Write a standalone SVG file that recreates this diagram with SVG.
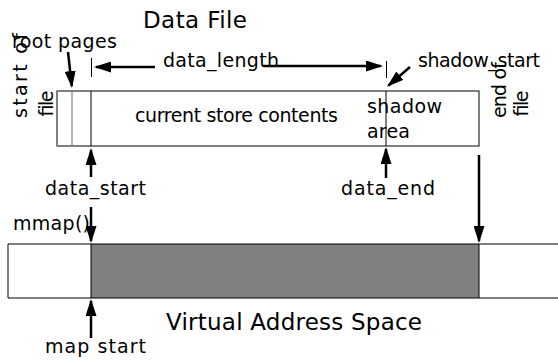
<svg xmlns="http://www.w3.org/2000/svg" width="558" height="360" viewBox="0 0 558 360">
<style>
text{font-family:"DejaVu Sans","Liberation Sans",sans-serif;fill:#000}
.t{font-size:19px}
.big{font-size:23px}
.box{fill:#fff;stroke:#000;stroke-width:1}
.thin{stroke:#000;stroke-width:1;fill:none}
.gl{stroke:#808080;stroke-width:1.2;fill:none}
.arr{stroke:#000;stroke-width:2.5;fill:none;marker-end:url(#ah)}
</style>
<defs>
<marker id="ah" markerUnits="userSpaceOnUse" markerWidth="17" markerHeight="11" refX="15" refY="5.5" orient="auto">
<path d="M0,0 L17,5.5 L0,11 z" fill="#000"/>
</marker>
</defs>
<rect width="558" height="360" fill="#fff"/>

<g id="title-data-file"><text class="big" x="143" y="28" textLength="104">Data File</text></g>

<g id="data-file">
<rect class="box" x="57" y="91" width="422" height="55"/>
<line class="gl" x1="57" y1="91" x2="57" y2="146"/>
<line class="gl" x1="72" y1="91" x2="72" y2="146"/>
<line class="thin" x1="91" y1="91" x2="91" y2="146"/>
<line class="thin" x1="386" y1="91" x2="386" y2="146"/>
<text class="t" x="135" y="122" textLength="203">current store contents</text>
<text class="t" x="367" y="113" textLength="75">shadow</text>
<text class="t" x="367" y="138" textLength="43">area</text>
</g>

<g id="virtual-address-space">
<rect x="8" y="244" width="83" height="54" fill="#fff"/>
<rect x="91" y="244" width="388" height="54" fill="#808080"/>
<rect x="479" y="244" width="79" height="54" fill="#fff"/>
<line class="thin" x1="8" y1="244" x2="558" y2="244"/>
<line class="thin" x1="8" y1="298" x2="558" y2="298"/>
<line class="thin" x1="8" y1="244" x2="8" y2="298"/>
<line class="thin" x1="91" y1="244" x2="91" y2="298"/>
<line class="thin" x1="479" y1="244" x2="479" y2="298"/>
<text class="big" x="166" y="330" textLength="256">Virtual Address Space</text>
</g>

<g id="labels">
<text class="t" x="12" y="48" textLength="105">root pages</text>
<text class="t" x="163" y="67" textLength="116">data_length</text>
<text class="t" x="418" y="67" textLength="122">shadow_start</text>
<text class="t" transform="translate(27,118) rotate(-90)" textLength="85">start of</text>
<text class="t" transform="translate(53,118) rotate(-90)" textLength="26">file</text>
<text class="t" transform="translate(506,118) rotate(-90)" textLength="56">end of</text>
<text class="t" transform="translate(528,118) rotate(-90)" textLength="26">file</text>
<text class="t" x="45" y="195" textLength="101">data_start</text>
<text class="t" x="341" y="195" textLength="94">data_end</text>
<text class="t" x="13" y="230" textLength="77">mmap()</text>
<text class="t" x="45" y="353" textLength="101">map start</text>
</g>

<g id="connectors">
<line class="thin" x1="91.5" y1="58" x2="91.5" y2="77"/>
<line class="thin" x1="386.5" y1="61" x2="386.5" y2="78"/>
<line class="arr" x1="68" y1="52" x2="71.8" y2="86"/>
<line class="arr" x1="155" y1="67" x2="96" y2="67"/>
<line class="arr" x1="263" y1="66" x2="381" y2="66"/>
<line class="arr" x1="410" y1="67" x2="388.5" y2="85.5"/>
<line class="arr" x1="91" y1="177" x2="91" y2="150"/>
<line class="arr" x1="386" y1="178" x2="386" y2="149"/>
<line class="arr" x1="91" y1="207" x2="91" y2="241"/>
<line class="arr" x1="479" y1="155" x2="479" y2="241"/>
<line class="arr" x1="91" y1="338" x2="91" y2="301"/>
</g>
</svg>
